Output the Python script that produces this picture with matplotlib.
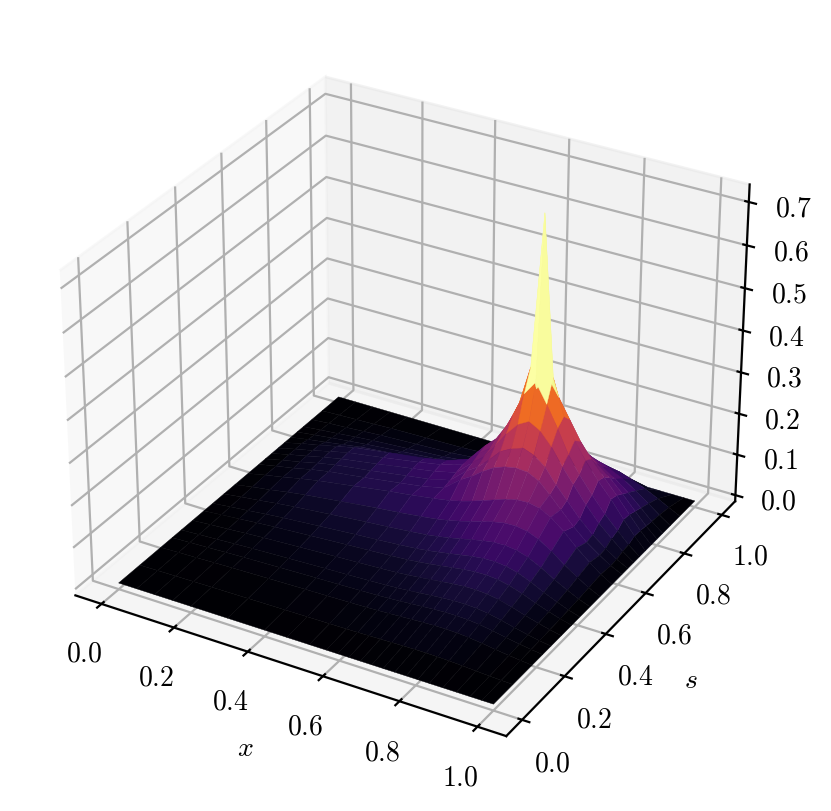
import matplotlib
matplotlib.use("Agg")
import matplotlib.pyplot as plt
import numpy as np

plt.rcParams['font.family'] = ['cmr10', 'DejaVu Serif']
plt.rcParams['mathtext.fontset'] = 'cm'
plt.rcParams['axes.formatter.use_mathtext'] = True
plt.rcParams['axes.unicode_minus'] = False

x_nodes = [0, .05, .1, .15, .2, .3, .4, .46, .52, .565, .595, .625, .655, .685, .715, .745, .775, .805, .835, .87, .905, .94, .97, 1]
s_nodes = [0, .09, .18, .23, .27, .32, .37, .41, .46, .51, .57, .62, .65, .68, .71, .74, .77, .8, .83, .87, .92, 1]

# surface heights, one row per s node
z_rows = [
 [0]*24,
 [0,.0006,.0012,.0018,.0023,.0032,.0041,.0046,.0051,.0056,.006,.0066,.0072,.0078,.0085,.0089,.009,.0086,.0077,.0061,.0041,.0024,.0011,0],
 [0,.0015,.0027,.0042,.0055,.0076,.0097,.0107,.012,.013,.0141,.0153,.0168,.0183,.0197,.0208,.021,.0202,.0181,.0143,.0097,.0057,.0025,0],
 [0,.002,.0036,.0056,.0073,.0101,.0129,.0143,.016,.0174,.0188,.0204,.0224,.0244,.0263,.0277,.028,.0269,.0241,.019,.0129,.0076,.0034,0],
 [0,.0025,.0047,.0072,.0094,.013,.0166,.0184,.0205,.0223,.0241,.0263,.0288,.0313,.0338,.0356,.036,.0346,.031,.0245,.0166,.0097,.0043,0],
 [0,.0032,.006,.0092,.012,.0166,.0212,.0235,.0262,.0285,.0308,.0336,.0368,.04,.0432,.0455,.046,.0442,.0396,.0313,.0212,.0124,.0055,0],
 [0,.004,.0074,.0114,.0148,.0205,.0262,.0291,.0325,.0353,.0382,.0416,.0456,.0496,.0536,.0564,.057,.0547,.049,.0388,.0262,.0154,.0068,0],
 [0,.0049,.0091,.014,.0182,.0252,.0322,.0357,.0399,.0434,.0469,.0511,.056,.0609,.0658,.0693,.07,.0672,.0602,.0476,.0322,.0189,.0084,0],
 [0,.006,.0111,.017,.0221,.0306,.0391,.0434,.0485,.0527,.057,.0621,.068,.074,.0799,.0842,.085,.0816,.0731,.0578,.0391,.023,.0102,0],
 [0,.0076,.014,.0216,.0281,.0389,.0497,.0551,.0616,.067,.0724,.0788,.0864,.094,.1015,.1069,.108,.1037,.0929,.0734,.0497,.0292,.013,0],
 [0,.0095,.0177,.0272,.0354,.049,.0626,.0694,.0775,.0843,.0911,.0993,.1088,.1183,.1278,.1346,.136,.1306,.117,.0925,.0626,.0367,.0163,0],
 [0,.009,.017,.027,.035,.047,.06,.068,.08,.112,.128,.148,.165,.175,.18,.178,.165,.14,.112,.08,.052,.03,.013,0],
 [0,.01,.019,.029,.038,.05,.064,.072,.085,.12,.137,.162,.19,.205,.215,.205,.185,.15,.12,.085,.056,.032,.014,0],
 [0,.0105,.02,.03,.039,.053,.068,.077,.09,.127,.148,.182,.22,.25,.265,.25,.22,.18,.145,.105,.07,.042,.019,0],
 [0,.0105,.02,.031,.041,.055,.07,.08,.095,.135,.155,.197,.25,.31,.345,.30,.25,.195,.155,.115,.078,.047,.021,0],
 [0,.011,.02,.03,.04,.053,.066,.076,.095,.14,.165,.207,.265,.36,.725,.35,.265,.215,.175,.135,.1,.06,.028,0],
 [0,.0075,.014,.021,.028,.037,.047,.056,.072,.125,.145,.182,.235,.295,.33,.29,.245,.2,.165,.13,.095,.058,.027,0],
 [0,.0055,.011,.016,.021,.029,.037,.045,.058,.1,.12,.146,.176,.2,.212,.205,.185,.16,.14,.115,.085,.052,.024,0],
 [0,.0045,.0085,.013,.017,.023,.029,.035,.045,.08,.095,.114,.133,.144,.15,.155,.148,.135,.118,.098,.074,.046,.021,0],
 [0,.0035,.006,.009,.012,.016,.02,.025,.032,.056,.065,.076,.086,.091,.094,.11,.11,.105,.095,.08,.06,.038,.018,0],
 [0,.002,.0035,.005,.007,.009,.011,.014,.018,.032,.037,.044,.0495,.0525,.054,.068,.07,.07,.065,.055,.042,.027,.013,0],
 [0]*24,
]

W, H, DPI = 831, 811, 200
fig = plt.figure(figsize=(W / DPI, H / DPI), dpi=DPI)
A = 767
cx, cy = 401, 401
ax = fig.add_axes([(cx - A / 2) / W, (H - cy - A / 2) / H, A / W, A / H], projection='3d')

X, S = np.meshgrid(x_nodes, s_nodes)
Z = np.array(z_rows, dtype=float)
surf = ax.plot_surface(X, S, Z, cmap='inferno', rcount=50, ccount=50)
surf.set_edgecolor('face')
surf.set_linewidth(0.15)
ax.set_xlabel('$x$', labelpad=0.8)
ax.set_ylabel('$s$', labelpad=0.8)
ax.set_xticks([0, .2, .4, .6, .8, 1.0])
ax.set_yticks([0, .2, .4, .6, .8, 1.0])
ax.set_zticks([0, .1, .2, .3, .4, .5, .6, .7])
ax.tick_params(axis='both', pad=1.7)

fig.savefig('out.png', dpi=DPI)
